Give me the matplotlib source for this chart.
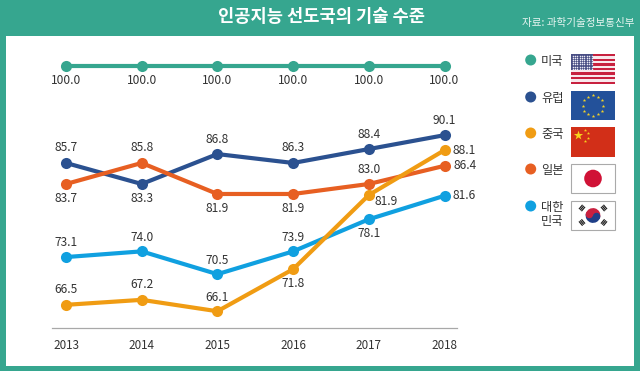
"""AI technology level of the leading countries, 2013-2018."""
import matplotlib
matplotlib.use("Agg")
import matplotlib.pyplot as plt
import numpy as np
from matplotlib.patches import Circle, Rectangle, Wedge

plt.rcParams["font.family"] = ["Noto Sans CJK KR", "DejaVu Sans"]

years = [2013, 2014, 2015, 2016, 2017, 2018]

# printed numbers
usa_labels = ["100.0", "100.0", "100.0", "100.0", "100.0", "100.0"]
eu_labels = ["85.7", "83.3", "86.8", "86.3", "88.4", "90.1"]
japan_labels = ["83.7", "85.8", "81.9", "81.9", "83.0", "86.4"]
china_labels = ["66.5", "67.2", "66.1", "71.8", "81.9", "88.1"]
korea_labels = ["73.1", "74.0", "70.5", "73.9", "78.1", "81.6"]

# line heights (the drawing is not strictly to scale)
usa = [100.0, 100.0, 100.0, 100.0, 100.0, 100.0]
eu = [86.4, 83.45, 87.65, 86.4, 88.35, 90.3]
japan = [83.45, 86.4, 82.05, 82.05, 83.45, 86.0]
china = [66.5, 67.2, 65.6, 71.5, 81.9, 88.2]
korea = [73.2, 74.0, 70.8, 74.0, 78.5, 81.8]

legend_names = ["미국", "유럽", "중국", "일본", "대한\n민국"]

TEAL = "#36a68f"
NAVY = "#2b5190"
ORANGE = "#f09c13"
RED = "#e75f22"
BLUE = "#10a0e0"
TEXT = "#333333"

W, H = 640, 371
fig = plt.figure(figsize=(W / 100, H / 100), dpi=100, facecolor=TEAL)


def px_axes(left, top, right, bottom, **kwargs):
    """Axes placed by pixel edges, measured from the top left of the figure."""
    return fig.add_axes([left / W, 1 - bottom / H, (right - left) / W, (bottom - top) / H], **kwargs)


# full-figure layer in pixel coordinates for the frame, legend and flags
bg = px_axes(0, 0, W, H)
bg.set_xlim(0, W)
bg.set_ylim(H, 0)
bg.axis("off")
bg.add_patch(Rectangle((5.5, 36), 628.5, 329.5, fc="white", ec="none"))
bg.text(321, 17.5, "인공지능 선도국의 기술 수준", color="white", fontsize=12.7,
        fontweight="bold", ha="center", va="center")
bg.text(634, 23, "자료: 과학기술정보통신부", color="#e8f5f1", fontsize=7.6, ha="right", va="center")

# chart
ax = px_axes(52, 40, 457, 328, facecolor="none")
ax.set_xlim(2013 - 14 / 75.7, 2018 + 12.5 / 75.7)
ax.set_ylim(63.25, 103.65)
ax.set_xticks(years)
ax.set_yticks([])
ax.tick_params(axis="x", length=0, pad=8, labelsize=8.4, labelcolor=TEXT)
for side in ["top", "left", "right"]:
    ax.spines[side].set_visible(False)
ax.spines["bottom"].set_color("#a8a8a8")
ax.spines["bottom"].set_linewidth(0.9)

# label offsets in points, one per year
up, down = 10.8, -10.5
series = [
    (usa, usa_labels, TEAL, [(0, down)] * 6),
    (eu, eu_labels, NAVY, [(0, up), (0, down), (0, up), (0, up), (0, up), (0, up)]),
    (japan, japan_labels, RED, [(0, down), (0, up), (0, down), (0, down), (0, up), (15, 0)]),
    (korea, korea_labels, BLUE, [(0, up), (0, up - 1), (0, up - 1), (0, up - 1), (0, down), (14, 0)]),
    (china, china_labels, ORANGE, [(0, up), (0, up), (0, up - 1), (0, down), (12.6, -4.5), (14, 0)]),
]
for values, labels, color, offsets in series:
    ax.plot(years, values, color=color, lw=3.0, marker="o", ms=8, mew=0,
            solid_joinstyle="round", clip_on=False)
    for year, value, label, (dx, dy) in zip(years, values, labels, offsets):
        ax.annotate(label, (year, value), xytext=(dx, dy), textcoords="offset points",
                    ha="center", va="center", fontsize=8.6, color=TEXT)

# legend
legend_colors = [TEAL, NAVY, ORANGE, RED, BLUE]
legend_y = [60, 97, 133, 169, 206]
for name, color, y in zip(legend_names, legend_colors, legend_y):
    bg.add_patch(Circle((530.7, y), 5.5, fc=color, ec="none"))
    text_y = y + 1.5 if "\n" not in name else y + 8.5
    bg.text(541, text_y, name, fontsize=8.8, color=TEXT, ha="left", va="center", linespacing=1.05)

FX0, FX1 = 571, 615

# US flag
for i in range(13):
    c = "#c8213f" if i % 2 == 0 else "#f8e8ec"
    bg.add_patch(Rectangle((FX0, 54 + i * 30 / 13), FX1 - FX0, 30 / 13 + 0.1, fc=c, ec="none"))
bg.add_patch(Rectangle((FX0, 54), 22, 16.2, fc="#4a4f85", ec="none"))
sx, sy = np.meshgrid(np.linspace(FX0 + 1.5, FX0 + 20.5, 9), np.linspace(55.5, 68.7, 7))
bg.scatter(sx.ravel(), sy.ravel(), s=1.2, c="#e8e8f4", linewidths=0)

# EU flag
bg.add_patch(Rectangle((FX0, 91), FX1 - FX0, 29, fc="#23519a", ec="none"))
angles = np.deg2rad(np.arange(0, 360, 30))
bg.scatter(593 + 10.2 * np.cos(angles), 105.5 + 10.2 * np.sin(angles), s=7, marker="*",
           c="#f4d327", linewidths=0)

# China flag
bg.add_patch(Rectangle((FX0, 127), FX1 - FX0, 30, fc="#d22f18", ec="none"))
bg.scatter([578], [135], s=50, marker="*", c="#f8d21c", linewidths=0)
bg.scatter([585, 588, 588, 585], [130, 133, 138, 141], s=6, marker="*", c="#f8d21c", linewidths=0)

# Japan flag
bg.add_patch(Rectangle((FX0, 163.5), FX1 - FX0, 29.5, fc="white", ec="#aaaaaa", lw=0.8))
bg.add_patch(Circle((593, 178.5), 8.8, fc="#d01236", ec="none"))

# Korea flag
bg.add_patch(Rectangle((FX0, 200.5), FX1 - FX0, 29.5, fc="white", ec="#aaaaaa", lw=0.8))
kx, ky, kr = 593, 215.5, 7.4
bg.add_patch(Wedge((kx, ky), kr, 195, 15, fc="#c8203f", ec="none"))
bg.add_patch(Wedge((kx, ky), kr, 15, 195, fc="#1f3f88", ec="none"))
ox, oy = kr / 2 * np.cos(np.deg2rad(15)), kr / 2 * np.sin(np.deg2rad(15))
bg.add_patch(Circle((kx - ox, ky - oy), kr / 2, fc="#c8203f", ec="none"))
bg.add_patch(Circle((kx + ox, ky + oy), kr / 2, fc="#1f3f88", ec="none"))
for cx, cy, ang in [(582, 208, -50), (604, 208, 50), (582, 222.5, 50), (604, 222.5, -50)]:
    t = np.deg2rad(ang)
    ux, uy = np.cos(t), np.sin(t)
    for k in (-1.6, 0, 1.6):
        mx, my = cx + k * -uy, cy + k * ux
        bg.plot([mx - 2.8 * ux, mx + 2.8 * ux], [my - 2.8 * uy, my + 2.8 * uy],
                color="#222222", lw=0.9, solid_capstyle="butt")

fig.savefig("out.png", dpi=100, facecolor=TEAL)
